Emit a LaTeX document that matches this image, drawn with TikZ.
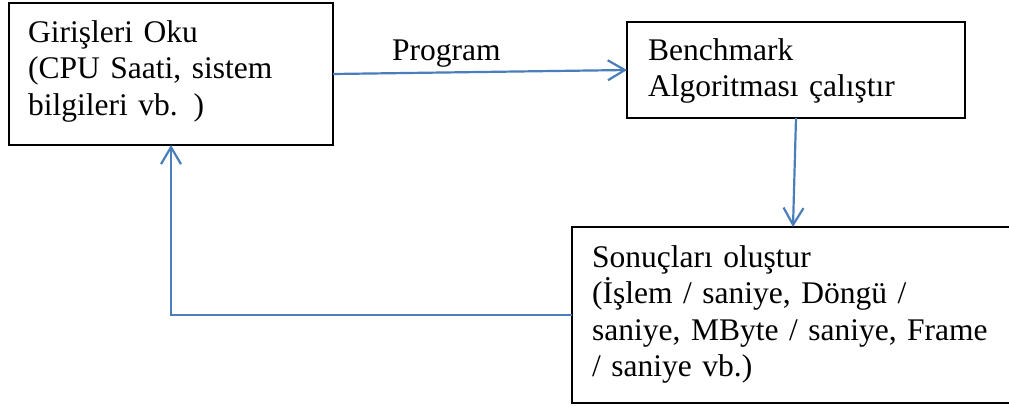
\documentclass[tikz,border=0pt]{standalone}
\usepackage{fontspec}
\setmainfont{Liberation Serif}
\usetikzlibrary{arrows.meta,calc}
\definecolor{flowblue}{HTML}{4A7EBB}
\begin{document}
\begin{tikzpicture}[x=1pt,y=-1pt,
  box/.style={draw=black, line width=1.2pt, rectangle, inner sep=0pt, outer sep=0pt, anchor=north west},
  txt/.style={anchor=base west, inner sep=0pt, align=left, text width=#1,
    font=\fontsize{31.5}{36.5}\selectfont},
  lbl/.style={anchor=base west, inner sep=0pt, font=\fontsize{31.5}{36.5}\selectfont},
  flow/.style={draw=flowblue, line width=2.2pt,
    -{Straight Barb[length=17pt,width=20pt]}}
]
\useasboundingbox (0,0) rectangle (1009,405);
\clip (0,0) rectangle (1009,405);

% process boxes
\node[box, minimum width=324pt, minimum height=142pt] (b1) at (9,3) {};
\node[box, minimum width=338pt, minimum height=96pt] (b2) at (627,22) {};
\node[box, minimum width=445pt, minimum height=176pt] (b3) at (572,227) {};

% box texts
\node[txt=300pt] (t1) at (28,42) {Girişleri Oku\\(CPU Saati, sistem\\bilgileri vb. )};
\node[txt=310pt] (t2) at (648,60) {Benchmark\\Algoritması çalıştır};
\node[txt=420pt] (t3) at (592,267) {Sonuçları oluştur\\(İşlem / saniye, Döngü /\\saniye, MByte / saniye, Frame\\/ saniye vb.)};

% connectors
\draw[flow] (b1.east) -- (b2.west);
\node[lbl] (prog) at (392,60) {Program};
\draw[flow] (b2.south) -- ([xshift=-3pt]b2.south |- b3.north);
\draw[flow] (b3.west) -| (b1.south);
\end{tikzpicture}
\end{document}
